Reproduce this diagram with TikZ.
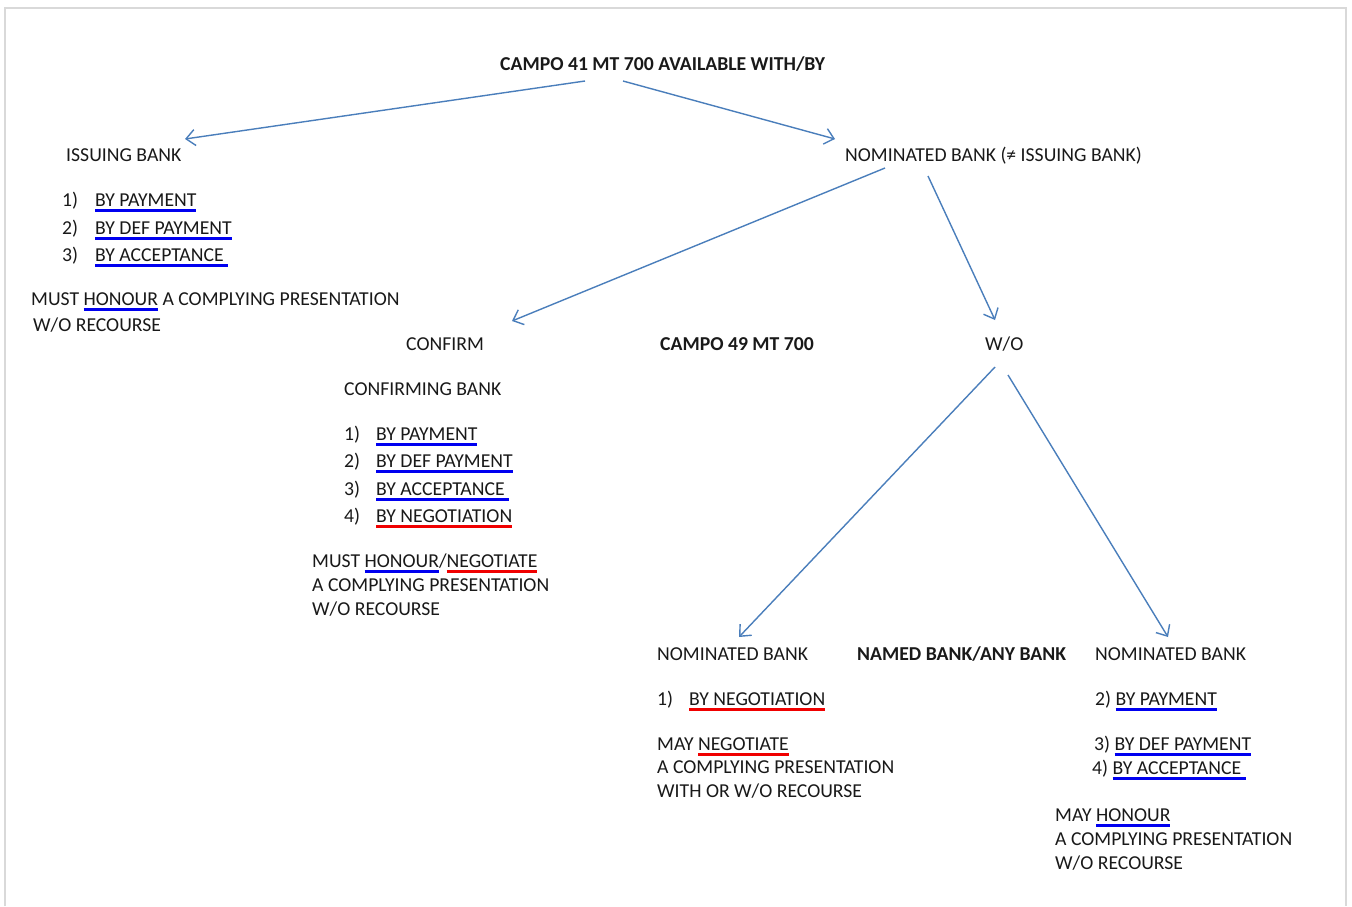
\documentclass[tikz,border=0pt]{standalone}
\usepackage{fontspec}
\setmainfont{Carlito}
\usetikzlibrary{arrows.meta}
\definecolor{arrblue}{RGB}{74,126,187}
\definecolor{ulblue}{RGB}{0,0,240}
\definecolor{ulred}{RGB}{240,0,0}
\definecolor{framegray}{RGB}{217,217,217}
\newcommand{\ulcol}[2]{\setbox0\hbox{#2}\rlap{\textcolor{#1}{\rule[-5.5pt]{\wd0}{3pt}}}\box0\relax}
\newcommand{\ulb}[1]{\ulcol{ulblue}{#1}}
\newcommand{\ulr}[1]{\ulcol{ulred}{#1}}
\newcommand{\num}[2]{\makebox[#1][l]{#2}}
\begin{document}
\begin{tikzpicture}[x=1pt,y=-1pt,
  txt/.style={anchor=base west,inner sep=0pt,font=\fontsize{19.7}{23}\selectfont,text=black!90},
  btxt/.style={txt,font=\fontsize{19.7}{23}\selectfont\bfseries},
  arr/.style={draw=arrblue,line width=1.4pt,-{Straight Barb[length=9pt,width=16pt,line width=1.4pt]}}]
\useasboundingbox (0,0) rectangle (1352,906);
\draw[framegray,line width=2pt] (4.5,906) -- (4.5,8) -- (1346,8) -- (1346,906);
% texts
\node[btxt] (title) at (500,70) {CAMPO 41 MT 700 AVAILABLE WITH/BY};
\node[txt] (iss) at (66,161) {ISSUING BANK};
\node[txt] (i1) at (62,206) {\num{33pt}{1)}\ulb{BY PAYMENT}};
\node[txt] (i2) at (62,234) {\num{33pt}{2)}\ulb{BY DEF PAYMENT}};
\node[txt] (i3) at (62,261) {\num{33pt}{3)}\ulb{BY ACCEPTANCE }};
\node[txt] (imust) at (31,305) {MUST \ulb{HONOUR} A COMPLYING PRESENTATION};
\node[txt] (iwo) at (33,331) {W/O RECOURSE};
\node[txt] (nom) at (845,161) {NOMINATED BANK (≠ ISSUING BANK)};
\node[txt] (conf) at (406,350) {CONFIRM};
\node[btxt] (c49) at (660,350) {CAMPO 49 MT 700};
\node[txt] (wo) at (985,350) {W/O};
\node[txt] (cbank) at (344,395) {CONFIRMING BANK};
\node[txt] (c1) at (344,440) {\num{32pt}{1)}\ulb{BY PAYMENT}};
\node[txt] (c2) at (344,467) {\num{32pt}{2)}\ulb{BY DEF PAYMENT}};
\node[txt] (c3) at (344,495) {\num{32pt}{3)}\ulb{BY ACCEPTANCE }};
\node[txt] (c4) at (344,522) {\num{32pt}{4)}\ulr{BY NEGOTIATION}};
\node[txt] (cmust) at (312,567) {MUST \ulb{HONOUR}/\ulr{NEGOTIATE}};
\node[txt] (ccomp) at (312,591) {A COMPLYING PRESENTATION};
\node[txt] (cwo) at (312,615) {W/O RECOURSE};
\node[txt] (nb1) at (657,660) {NOMINATED BANK};
\node[btxt] (named) at (857,660) {NAMED BANK/ANY BANK};
\node[txt] (nb2) at (1095,660) {NOMINATED BANK};
\node[txt] (n1) at (657,705) {\num{32pt}{1)}\ulr{BY NEGOTIATION}};
\node[txt] (nmay) at (657,750) {MAY \ulr{NEGOTIATE}};
\node[txt] (ncomp) at (657,773) {A COMPLYING PRESENTATION};
\node[txt] (nwith) at (657,797) {WITH OR W/O RECOURSE};
\node[txt] (m2) at (1095,705) {2) \ulb{BY PAYMENT}};
\node[txt] (m3) at (1094,750) {3) \ulb{BY DEF PAYMENT}};
\node[txt] (m4) at (1092,774) {4) \ulb{BY ACCEPTANCE }};
\node[txt] (mmay) at (1055,821) {MAY \ulb{HONOUR}};
\node[txt] (mcomp) at (1055,845) {A COMPLYING PRESENTATION};
\node[txt] (mwo) at (1055,869) {W/O RECOURSE};
% connector end points
\coordinate (titleL) at (585,81);
\coordinate (titleR) at (623,81);
\coordinate (issT) at (185,139);
\coordinate (nomT) at (835,139);
\coordinate (nomL) at (885,168);
\coordinate (nomR) at (928,176);
\coordinate (confT) at (512,321);
\coordinate (woT) at (995,320);
\coordinate (woL) at (995,367);
\coordinate (woR) at (1008,375);
\coordinate (nb1T) at (739,637);
\coordinate (nb2T) at (1168,637);
% connectors
\draw[arr] (titleL) -- (issT);
\draw[arr] (titleR) -- (nomT);
\draw[arr] (nomL) -- (confT);
\draw[arr] (nomR) -- (woT);
\draw[arr] (woL) -- (nb1T);
\draw[arr] (woR) -- (nb2T);
\end{tikzpicture}
\end{document}
